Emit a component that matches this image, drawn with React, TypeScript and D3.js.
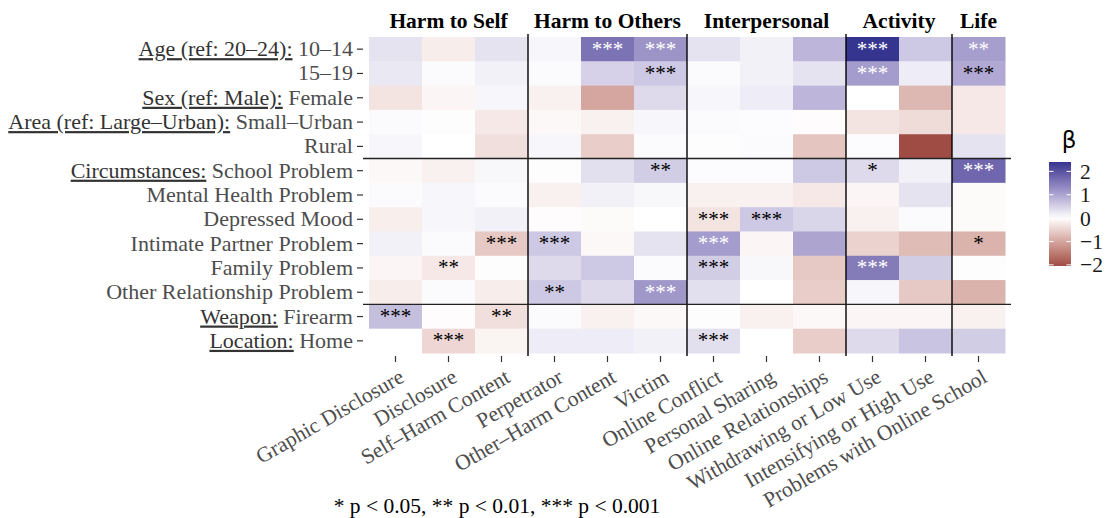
import React, {useEffect, useRef} from "react";
import * as d3 from "d3";

const columns: string[] = [
  "Graphic Disclosure", "Disclosure", "Self\u2013Harm Content",
  "Perpetrator", "Other\u2013Harm Content", "Victim",
  "Online Conflict", "Personal Sharing", "Online Relationships",
  "Withdrawing or Low Use", "Intensifying or High Use",
  "Problems with Online School",
];
const groupNames: string[] = ["Harm to Self", "Harm to Others", "Interpersonal", "Activity", "Life"];
const groupSizes: number[] = [3, 3, 3, 2, 1];

const rowPrefixes: string[] = [
  "Age (ref: 20\u201324):", "", "Sex (ref: Male):", "Area (ref: Large\u2013Urban):", "",
  "Circumstances:", "", "", "", "", "",
  "Weapon:", "Location:",
];
const rowLabels: string[] = [
  "10\u201314", "15\u201319", "Female", "Small\u2013Urban", "Rural",
  "School Problem", "Mental Health Problem", "Depressed Mood", "Intimate Partner Problem",
  "Family Problem", "Other Relationship Problem",
  "Firearm", "Home",
];
// rows are separated after these indices
const rowBreaks: number[] = [4, 10];

const betas: number[][] = [
  [0.3, -0.2, 0.3, 0.1, 1.6, 1.2, 0.3, 0.15, 0.8, 2.4, 0.6, 1.08],
  [0.25, 0.05, 0.15, 0.05, 0.5, 0.6, 0.05, 0.15, 0.3, 1.1, 0.2, 0.95],
  [-0.3, -0.1, 0.1, -0.15, -1.0, 0.4, 0.1, 0.2, 0.8, 0.0, -0.8, -0.25],
  [0.05, 0.02, -0.25, -0.08, -0.15, 0.1, 0.05, 0.03, -0.03, -0.3, -0.4, -0.25],
  [0.1, 0.0, -0.35, 0.1, -0.55, 0.05, 0.02, 0.05, -0.65, 0.03, -2.05, 0.3],
  [-0.08, -0.15, 0.08, 0.02, 0.35, 0.55, 0.03, 0.03, 0.6, 0.4, 0.15, 1.75],
  [0.05, 0.1, 0.05, -0.15, 0.15, 0.08, -0.15, -0.15, -0.25, -0.1, 0.3, -0.05],
  [-0.18, 0.1, 0.15, -0.03, -0.05, 0.0, -0.3, 0.6, 0.45, -0.15, 0.05, -0.05],
  [0.15, 0.05, -0.6, 0.6, -0.08, 0.3, 1.1, -0.1, 1.0, -0.5, -0.75, -0.85],
  [-0.1, -0.25, -0.02, 0.4, 0.6, 0.05, 0.55, 0.08, -0.6, 1.5, 0.55, 0.02],
  [-0.2, 0.05, -0.2, 0.6, 0.4, 1.15, 0.35, 0.0, -0.55, 0.1, -0.6, -0.85],
  [0.7, -0.03, -0.35, 0.05, -0.15, -0.08, 0.02, -0.15, -0.08, -0.1, -0.1, -0.15],
  [0.0, -0.45, -0.12, 0.2, 0.2, 0.15, 0.35, 0.0, -0.55, 0.4, 0.65, 0.55],
];

const stars: string[][] = [
  ["", "", "", "", "***", "***", "", "", "", "***", "", "**"],
  ["", "", "", "", "", "***", "", "", "", "***", "", "***"],
  ["", "", "", "", "", "", "", "", "", "", "", ""],
  ["", "", "", "", "", "", "", "", "", "", "", ""],
  ["", "", "", "", "", "", "", "", "", "", "", ""],
  ["", "", "", "", "", "**", "", "", "", "*", "", "***"],
  ["", "", "", "", "", "", "", "", "", "", "", ""],
  ["", "", "", "", "", "", "***", "***", "", "", "", ""],
  ["", "", "***", "***", "", "", "***", "", "", "", "", "*"],
  ["", "**", "", "", "", "", "***", "", "", "***", "", ""],
  ["", "", "", "**", "", "***", "", "", "", "", "", ""],
  ["***", "", "**", "", "", "", "", "", "", "", "", ""],
  ["", "***", "", "", "", "", "***", "", "", "", "", ""],
];

const legendTicks: number[] = [2, 1, 0, -1, -2];
const legendRange: number[] = [-2.05, 2.4];

const LowColor = "#8b2d2a";
const HighColor = "#35358f";
const serif = "'Liberation Serif', 'Times New Roman', serif";

function fillFor(v: number): string {
  const lim = d3.max(legendRange.map(Math.abs)) as number;
  const t = Math.min(1, Math.abs(v) / lim);
  return v >= 0 ? d3.interpolateLab("#ffffff", HighColor)(t) : d3.interpolateLab("#ffffff", LowColor)(t);
}

export default function App(): React.ReactElement {
  const svgRef = useRef<SVGSVGElement>(null);

  useEffect(() => {
    if (svgRef.current === null) return;
    const svg = d3.select(svgRef.current);
    svg.selectAll("*").remove();

    const x = d3.scaleBand().domain(columns).range([369, 1005]);
    const y = d3.scaleBand().domain(rowLabels).range([37, 353]);
    const panel = {left: 363, right: 1011, top: 34, bottom: 356};

    const cells = betas.flatMap((row, i) => row.map((v, j) => ({v, r: rowLabels[i], c: columns[j], s: stars[i][j]})));

    svg.append("g").selectAll("rect")
      .data(cells)
      .join("rect")
      .attr("x", d => x(d.c) as number)
      .attr("y", d => y(d.r) as number)
      .attr("width", x.bandwidth() + 0.5)
      .attr("height", y.bandwidth() + 0.5)
      .attr("fill", d => fillFor(d.v));

    svg.append("g").selectAll("text")
      .data(cells.filter(d => d.s !== ""))
      .join("text")
      .attr("x", d => (x(d.c) as number) + x.bandwidth() / 2)
      .attr("y", d => (y(d.r) as number) + y.bandwidth() / 2 + 6.5)
      .attr("text-anchor", "middle")
      .attr("font-family", serif)
      .attr("font-size", 21)
      .attr("fill", d => Math.abs(d.v) > 1.02 ? "#ffffff" : "#000000")
      .text(d => d.s);

    // group separators
    const sepCols: number[] = [];
    groupSizes.reduce((acc, n) => { sepCols.push(acc + n); return acc + n; }, 0);
    sepCols.pop();
    svg.append("g").selectAll("line")
      .data(sepCols)
      .join("line")
      .attr("x1", d => x(columns[d]) as number)
      .attr("x2", d => x(columns[d]) as number)
      .attr("y1", panel.top)
      .attr("y2", panel.bottom)
      .attr("stroke", "#000")
      .attr("stroke-width", 1.4);

    svg.append("g").selectAll("line")
      .data(rowBreaks)
      .join("line")
      .attr("x1", panel.left)
      .attr("x2", panel.right)
      .attr("y1", d => (y(rowLabels[d]) as number) + y.bandwidth())
      .attr("y2", d => (y(rowLabels[d]) as number) + y.bandwidth())
      .attr("stroke", "#222")
      .attr("stroke-width", 1.4);

    // group headers
    let start = 0;
    const headers = groupNames.map((name, i) => {
      const first = columns[start];
      const last = columns[start + groupSizes[i] - 1];
      start += groupSizes[i];
      return {name, cx: ((x(first) as number) + (x(last) as number) + x.bandwidth()) / 2};
    });
    svg.append("g").selectAll("text")
      .data(headers)
      .join("text")
      .attr("x", d => d.cx)
      .attr("y", 28)
      .attr("text-anchor", "middle")
      .attr("font-family", serif)
      .attr("font-weight", "bold")
      .attr("font-size", 21.5)
      .attr("fill", "#000")
      .text(d => d.name);

    // y axis
    const yAxis = svg.append("g");
    yAxis.selectAll("line")
      .data(rowLabels)
      .join("line")
      .attr("x1", panel.left - 6)
      .attr("x2", panel.left)
      .attr("y1", d => (y(d) as number) + y.bandwidth() / 2)
      .attr("y2", d => (y(d) as number) + y.bandwidth() / 2)
      .attr("stroke", "#333")
      .attr("stroke-width", 1.2);
    const yLabels = yAxis.selectAll("text")
      .data(rowLabels)
      .join("text")
      .attr("x", panel.left - 10)
      .attr("y", d => (y(d) as number) + y.bandwidth() / 2 + 7)
      .attr("text-anchor", "end")
      .attr("font-family", serif)
      .attr("font-size", 22)
      .attr("fill", "#4d4d4d");
    yLabels.each(function (d, i) {
      const t = d3.select(this);
      if (rowPrefixes[i] !== "") {
        t.append("tspan")
          .attr("fill", "#333")
          .style("text-decoration", "underline")
          .text(rowPrefixes[i]);
        t.append("tspan").text(" " + d);
      } else {
        t.text(d);
      }
    });

    // x axis
    const xAxis = svg.append("g");
    xAxis.selectAll("line")
      .data(columns)
      .join("line")
      .attr("x1", d => (x(d) as number) + x.bandwidth() / 2)
      .attr("x2", d => (x(d) as number) + x.bandwidth() / 2)
      .attr("y1", panel.bottom)
      .attr("y2", panel.bottom + 6)
      .attr("stroke", "#333")
      .attr("stroke-width", 1.2);
    xAxis.selectAll("text")
      .data(columns)
      .join("text")
      .attr("transform", d => `translate(${(x(d) as number) + x.bandwidth() / 2 + 2.5},${panel.bottom + 12}) rotate(-30)`)
      .attr("dy", "0.7em")
      .attr("text-anchor", "end")
      .attr("font-family", serif)
      .attr("font-size", 21.5)
      .attr("fill", "#4d4d4d")
      .text(d => d);

    // caption
    svg.append("text")
      .attr("x", 497)
      .attr("y", 513)
      .attr("text-anchor", "middle")
      .attr("font-family", serif)
      .attr("font-size", 21.5)
      .attr("fill", "#000")
      .text("* p < 0.05, ** p < 0.01, *** p < 0.001");

    // legend
    const yl = d3.scaleLinear().domain(legendRange).range([266, 162]);
    const defs = svg.append("defs");
    const grad = defs.append("linearGradient")
      .attr("id", "betaGrad")
      .attr("x1", 0).attr("x2", 0).attr("y1", 1).attr("y2", 0);
    const steps = d3.range(0, 1.0001, 0.05);
    grad.selectAll("stop")
      .data(steps)
      .join("stop")
      .attr("offset", d => d)
      .attr("stop-color", d => fillFor(legendRange[0] + d * (legendRange[1] - legendRange[0])));
    const lg = svg.append("g");
    lg.append("rect")
      .attr("x", 1049)
      .attr("y", yl(legendRange[1]))
      .attr("width", 22)
      .attr("height", yl(legendRange[0]) - yl(legendRange[1]))
      .attr("fill", "url(#betaGrad)");
    lg.selectAll("line.tl")
      .data(legendTicks)
      .join("line")
      .attr("class", "tl")
      .attr("x1", 1049).attr("x2", 1053.5)
      .attr("y1", d => yl(d)).attr("y2", d => yl(d))
      .attr("stroke", "#fff").attr("stroke-width", 1);
    lg.selectAll("line.tr")
      .data(legendTicks)
      .join("line")
      .attr("class", "tr")
      .attr("x1", 1066.5).attr("x2", 1071)
      .attr("y1", d => yl(d)).attr("y2", d => yl(d))
      .attr("stroke", "#fff").attr("stroke-width", 1);
    lg.selectAll("text.lab")
      .data(legendTicks)
      .join("text")
      .attr("class", "lab")
      .attr("x", 1080)
      .attr("y", d => yl(d) + 7.5)
      .attr("font-family", serif)
      .attr("font-size", 21.5)
      .attr("fill", "#1a1a1a")
      .text(d => d < 0 ? `\u2212${Math.abs(d)}` : `${d}`);
    lg.append("text")
      .attr("x", 1069)
      .attr("y", 148)
      .attr("text-anchor", "middle")
      .attr("font-family", "'DejaVu Sans', sans-serif")
      .attr("font-size", 23)
      .attr("fill", "#000")
      .text("\u03b2");
  }, []);

  return (
    <svg ref={svgRef} width={1109} height={518}
         style={{position: "absolute", left: 0, top: 0, background: "#fff"}}></svg>
  );
}
